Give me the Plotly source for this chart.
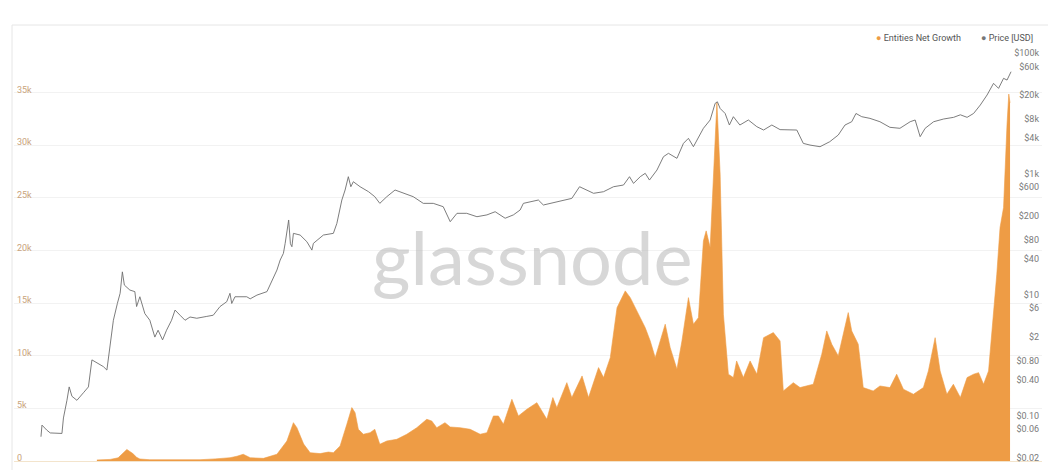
import plotly.graph_objects as go

# ---------------- data ----------------
entity_dates = [
    "2011-03-01", "2011-04-23", "2011-05-25", "2011-06-15", "2011-06-29", "2011-07-11", "2011-07-23",
    "2011-08-07", "2011-08-20", "2011-09-29", "2012-01-08", "2012-04-17", "2012-06-16", "2012-08-15",
    "2012-09-12", "2012-10-07", "2012-11-04", "2012-12-27", "2013-02-19", "2013-03-31", "2013-04-26",
    "2013-05-10", "2013-06-06", "2013-07-02", "2013-08-11", "2013-09-13", "2013-10-03", "2013-10-30",
    "2013-11-26", "2013-12-16", "2013-12-29", "2014-01-11", "2014-01-31", "2014-02-27", "2014-03-18",
    "2014-04-07", "2014-05-05", "2014-06-14", "2014-07-24", "2014-09-02", "2014-10-12", "2014-11-01",
    "2014-11-21", "2014-12-24", "2015-01-14", "2015-02-23", "2015-04-04", "2015-05-14", "2015-06-10",
    "2015-07-06", "2015-07-26", "2015-08-15", "2015-09-18", "2015-10-14", "2015-11-17", "2015-12-27",
    "2016-02-05", "2016-02-29", "2016-03-16", "2016-04-25", "2016-05-15", "2016-06-25", "2016-07-21",
    "2016-08-30", "2016-09-19", "2016-10-16", "2016-11-12", "2016-12-15", "2017-01-04", "2017-01-31",
    "2017-03-05", "2017-03-25", "2017-04-14", "2017-05-04", "2017-05-24", "2017-06-13", "2017-07-10",
    "2017-07-30", "2017-08-25", "2017-09-14", "2017-10-04", "2017-10-24", "2017-11-04", "2017-11-20",
    "2017-12-03", "2017-12-17", "2017-12-30", "2018-01-12", "2018-02-01", "2018-02-21", "2018-03-06",
    "2018-04-02", "2018-04-29", "2018-05-26", "2018-06-22", "2018-07-31", "2018-08-27", "2018-09-09",
    "2018-10-19", "2018-11-15", "2019-01-07", "2019-02-10", "2019-03-02", "2019-03-22", "2019-04-17",
    "2019-05-07", "2019-05-27", "2019-06-10", "2019-07-06", "2019-07-26", "2019-09-04", "2019-10-01",
    "2019-11-10", "2019-12-07", "2020-01-03", "2020-02-12", "2020-03-23", "2020-04-12", "2020-05-09",
    "2020-05-29", "2020-06-25", "2020-07-21", "2020-08-18", "2020-09-14", "2020-10-10", "2020-10-30",
    "2020-11-19", "2020-12-09", "2020-12-29", "2021-01-11", "2021-01-24", "2021-02-07", "2021-02-21",
    "2021-02-28", "2021-03-05",
]
entity_values = [
    100, 150, 300, 760, 1100, 900, 700,
    350, 190, 120, 100, 120, 200, 310,
    450, 640, 310, 250, 640, 1900, 3640,
    3160, 1610, 790, 700, 850, 790, 1425,
    3490, 5070, 4590, 3010, 2540, 2690, 3010,
    1590, 1900, 2060, 2540, 3160, 3960, 3800,
    3160, 3640, 3230, 3160, 3010, 2540, 2690,
    4275, 4275, 3490, 5860, 4275, 4910, 5540,
    3960, 6020, 5060, 7440, 6020, 8075, 6020,
    8870, 7920, 9810, 14560, 16150, 15510, 14250,
    12660, 11400, 9810, 11400, 12990, 10760, 8710,
    11400, 15510, 12990, 13610, 20900, 21850, 20260,
    27240, 34040, 27240, 13940, 8240, 7920, 9500,
    7920, 9500, 8240, 11710, 12190, 11400, 6650,
    7440, 6970, 7290, 10140, 12350, 11090, 9980,
    12040, 14090, 12350, 11090, 6970, 6650, 7125,
    6970, 8240, 6810, 6340, 6970, 8550, 11710,
    8550, 6340, 7290, 6020, 7920, 8240, 8390,
    7290, 8550, 13940, 17740, 22170, 24060, 31990,
    34840, 34000,
]

price_dates = [
    "2010-07-20", "2010-07-24", "2010-08-12", "2010-08-26", "2010-10-12", "2010-10-18", "2010-11-01",
    "2010-11-10", "2010-11-21", "2010-12-11", "2011-01-06", "2011-01-26", "2011-02-09", "2011-03-01",
    "2011-03-27", "2011-04-10", "2011-04-23", "2011-05-06", "2011-05-22", "2011-06-02", "2011-06-11",
    "2011-06-19", "2011-07-11", "2011-07-31", "2011-08-07", "2011-08-20", "2011-09-09", "2011-09-29",
    "2011-10-19", "2011-11-01", "2011-11-19", "2011-12-05", "2011-12-25", "2012-01-08", "2012-01-28",
    "2012-02-17", "2012-03-08", "2012-04-04", "2012-05-14", "2012-06-09", "2012-07-06", "2012-08-02",
    "2012-08-15", "2012-08-22", "2012-09-04", "2012-10-21", "2012-11-04", "2012-12-01", "2013-01-10",
    "2013-01-23", "2013-02-19", "2013-03-04", "2013-03-17", "2013-03-24", "2013-04-07", "2013-04-14",
    "2013-04-20", "2013-04-26", "2013-05-23", "2013-06-19", "2013-07-09", "2013-07-15", "2013-08-24",
    "2013-10-03", "2013-10-17", "2013-11-06", "2013-11-19", "2013-12-02", "2013-12-12", "2013-12-22",
    "2014-01-18", "2014-02-21", "2014-03-18", "2014-04-07", "2014-05-05", "2014-06-07", "2014-07-10",
    "2014-08-19", "2014-09-28", "2014-11-07", "2014-12-17", "2015-01-14", "2015-02-10", "2015-03-21",
    "2015-05-01", "2015-06-10", "2015-07-13", "2015-08-22", "2015-09-24", "2015-10-21", "2015-11-03",
    "2015-11-30", "2016-01-02", "2016-01-22", "2016-03-16", "2016-05-15", "2016-06-15", "2016-07-14",
    "2016-08-10", "2016-09-19", "2016-10-29", "2016-12-08", "2017-01-01", "2017-01-17", "2017-02-13",
    "2017-03-05", "2017-03-22", "2017-04-21", "2017-05-17", "2017-06-06", "2017-07-10", "2017-08-05",
    "2017-08-25", "2017-09-14", "2017-09-28", "2017-10-24", "2017-11-20", "2017-12-10", "2017-12-19",
    "2017-12-30", "2018-01-19", "2018-02-05", "2018-02-21", "2018-03-19", "2018-04-22", "2018-05-26",
    "2018-06-22", "2018-07-25", "2018-08-27", "2018-11-02", "2018-11-28", "2018-12-25", "2019-02-03",
    "2019-03-14", "2019-04-17", "2019-05-14", "2019-06-10", "2019-06-27", "2019-07-20", "2019-08-22",
    "2019-10-01", "2019-11-10", "2019-12-20", "2020-01-30", "2020-02-19", "2020-03-10", "2020-03-30",
    "2020-05-03", "2020-06-12", "2020-07-22", "2020-08-18", "2020-09-14", "2020-10-10", "2020-11-06",
    "2020-12-03", "2020-12-29", "2021-01-18", "2021-02-07", "2021-02-21", "2021-03-09",
]
price_values = [
    0.045, 0.070, 0.058, 0.052, 0.051, 0.092, 0.18,
    0.30, 0.21, 0.18, 0.24, 0.30, 0.84, 0.75,
    0.65, 0.57, 1.39, 3.8, 7.2, 10.6, 24,
    14.5, 12, 11.3, 6.4, 9.3, 4.9, 3.8,
    2.0, 2.6, 1.8, 2.6, 3.8, 5.6, 4.6,
    3.8, 4.3, 4.1, 4.4, 4.6, 6.4, 7.7,
    10.6, 7.2, 9.3, 9.3, 8.6, 9.9, 11.3,
    14.5, 25.7, 37.7, 48.6, 71, 173, 70,
    62.5, 104, 97.5, 75.6, 55, 71, 97.5,
    104, 152, 370, 542, 900, 614, 743,
    614, 508, 420, 326, 420, 542, 478,
    420, 326, 326, 287, 162, 223, 223,
    196, 210, 237, 185, 210, 253, 326,
    347, 370, 306, 347, 394, 614, 542,
    478, 508, 614, 655, 900, 698, 900,
    1023, 792, 1160, 1927, 2190, 1810, 3200,
    3880, 2820, 3640, 5680, 7800, 14700, 15600,
    12100, 10000, 6440, 8840, 6440, 7800, 6040,
    5320, 6440, 5400, 5320, 3200, 3000, 2820,
    3410, 4400, 6440, 7300, 10000, 8840, 8300,
    7300, 5900, 5680, 7300, 7800, 4130, 5680,
    7300, 8100, 8630, 9500, 8630, 10000, 13800,
    20200, 31500, 26000, 38100, 35700, 49000,
]

left_tickvals = [0, 5000, 10000, 15000, 20000, 25000, 30000, 35000]
left_ticktext = ["0", "5k", "10k", "15k", "20k", "25k", "30k", "35k"]
right_tickvals = [0.02, 0.06, 0.10, 0.40, 0.80, 2, 6, 10, 40, 80, 200, 600, 1000, 4000, 8000,
                  20000, 60000, 100000]
right_ticktext = ["$0.02", "$0.06", "$0.10", "$0.40", "$0.80", "$2", "$6", "$10", "$40", "$80",
                  "$200", "$600", "$1k", "$4k", "$8k", "$20k", "$60k", "$100k"]

# ---------------- style ----------------
ORANGE = "#EE9C45"
PRICE_GREY = "#6e6e6e"
W, H = 1048, 470
L, R, T, B = 14, 1042, 42, 466   # plot area in pixels


def px_x(px):
    return (px - L) / (R - L)


def px_y(py):
    return (B - py) / (B - T)


fig = go.Figure()
fig.add_trace(go.Scatter(
    x=entity_dates, y=entity_values, mode="lines", name="Entities Net Growth",
    line=dict(color=ORANGE, width=0.6), fill="tozeroy", fillcolor=ORANGE,
    yaxis="y", hoverinfo="skip", showlegend=False,
))
fig.add_trace(go.Scatter(
    x=price_dates, y=price_values, mode="lines", name="Price [USD]",
    line=dict(color=PRICE_GREY, width=0.9), yaxis="y2", hoverinfo="skip", showlegend=False,
))

font_family = "Roboto, 'Open Sans', sans-serif"

fig.update_layout(
    template="none",
    width=W, height=H,
    margin=dict(l=L, r=W - R, t=T, b=H - B, pad=0),
    paper_bgcolor="white", plot_bgcolor="white",
    showlegend=False,
    font=dict(family=font_family, size=9, color="#777"),
    xaxis=dict(
        type="date", range=["2010-04-03", "2021-07-11"],
        showgrid=False, zeroline=False, showline=False,
        showticklabels=False, ticks="", automargin=False,
    ),
    yaxis=dict(
        range=[-475, 39783], tickvals=left_tickvals, ticktext=left_ticktext,
        ticklabelposition="inside", side="left", ticklabelshift=-3,
        tickfont=dict(size=9, color="#c9a37c"),
        showgrid=True, gridcolor="#f2f2f2", gridwidth=1,
        zeroline=True, zerolinecolor="#f3e4cc", zerolinewidth=1, showline=False,
        ticks="", automargin=False,
    ),
    yaxis2=dict(
        type="log", range=[-1.831, 5.182], overlaying="y", side="right",
        tickvals=right_tickvals, ticktext=right_ticktext, ticklabelposition="inside",
        tickfont=dict(size=9, color="#7a7a7a"),
        showgrid=False, zeroline=False, showline=False, ticks="", automargin=False,
    ),
)

# watermark
fig.add_annotation(
    x=px_x(532), y=px_y(256), xref="paper", yref="paper", text="glassnode", showarrow=False,
    font=dict(family="Lato, sans-serif", size=74, color="rgba(175,175,175,0.5)"),
    xanchor="center", yanchor="middle",
)

# legend (as text)
fig.add_annotation(
    x=px_x(963), y=px_y(38), xref="paper", yref="paper", showarrow=False,
    xanchor="right", yanchor="middle",
    text="<span style='color:%s'>●</span> Entities Net Growth" % ORANGE,
    font=dict(family=font_family, size=9, color="#555"),
)
fig.add_annotation(
    x=px_x(1035), y=px_y(38), xref="paper", yref="paper", showarrow=False,
    xanchor="right", yanchor="middle",
    text="<span style='color:#777'>●</span> Price [USD]",
    font=dict(family=font_family, size=9, color="#555"),
)

# container border (top and left edges)
fig.add_shape(type="line", xref="paper", yref="paper",
              x0=px_x(12), x1=px_x(1048), y0=px_y(25), y1=px_y(25),
              line=dict(color="#e6e6e6", width=1))
fig.add_shape(type="line", xref="paper", yref="paper",
              x0=px_x(12), x1=px_x(12), y0=px_y(25), y1=px_y(470),
              line=dict(color="#e6e6e6", width=1))

fig.write_html(
    "out.html",
    config={"displayModeBar": False},
    post_script="document.body.style.margin='0px';document.body.style.overflow='hidden';",
)
